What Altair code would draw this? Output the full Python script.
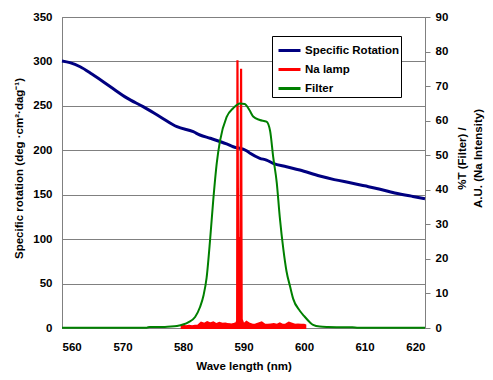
import altair as alt
import pandas as pd

# Specific rotation (left axis)
rot_wl = [560, 561.3, 563, 565, 568, 570.7, 573.4, 576.2, 579, 581.7, 582.8, 584.5,
          587.2, 588.3, 590.5, 591.1, 592.7, 593.8, 594.9, 597.1, 599.3, 602.6, 605,
          608, 610, 612, 615, 618, 620]
rot_val = [300.5, 298.6, 294, 285.5, 271.5, 259, 249.1, 237.8, 226.5, 220.9, 217.2, 213.5,
           207.1, 204, 199.5, 196.6, 191, 189, 185.3, 181.5, 177.8, 171, 167,
           163, 160, 157, 152, 148, 145.5]

# Filter transmission (right axis)
fil_wl = [560, 565, 570, 574, 574.5, 577, 578, 579, 580, 581, 582, 582.8, 583.4, 583.9,
          584.5, 585, 585.6, 586.1, 587.2, 588.3, 589.4, 590.2, 591, 591.6, 592.7, 593.8,
          594.4, 594.9, 595.5, 596, 596.6, 597.1, 597.7, 598.2, 599.3, 600, 601, 601.5,
          602.6, 604, 608, 609, 620]
fil_val = [0.1, 0.1, 0.1, 0.1, 0.3, 0.3, 0.4, 0.6, 1.0, 1.8, 3.2, 6, 9.5, 14.5,
           26, 37, 48, 54, 61, 63.6, 65, 64.8, 63, 61.2, 60.2, 59.7,
           57, 49.6, 42, 32, 22.6, 16.5, 12, 8.5, 5, 3.5, 1.6, 0.9,
           0.4, 0.3, 0.2, 0.1, 0.1]

# Na lamp intensity (right axis)
na_wl = [579.8, 580, 580.5, 581, 581.5, 582, 582.5, 583, 583.5, 584, 584.5, 585, 585.5,
         586, 586.5, 587, 587.5, 588, 588.5, 588.8, 588.95, 589.0, 589.1, 589.5, 589.6,
         589.7, 590, 590.5, 591, 591.5, 592, 592.5, 593, 593.5, 594, 594.5, 595, 595.5,
         596, 596.5, 597, 597.5, 598, 598.5, 599, 599.5, 600, 600.2]
na_val = [0.6, 0.6, 0.5, 0.6, 0.5, 0.6, 0.7, 1.5, 1.2, 1.7, 1.3, 1.6, 1.1,
          1.5, 1.2, 1.3, 1.1, 1.0, 1.2, 1.4, 2.0, 77.5, 26, 26, 75,
          2.5, 1.0, 1.8, 1.2, 0.9, 1.0, 1.3, 1.6, 1.0, 0.9, 1.0, 1.1, 0.9,
          1.3, 0.9, 1.0, 1.5, 1.2, 0.9, 1.0, 0.9, 0.9, 0.8]

series = ["Specific Rotation", "Na lamp", "Filter"]
colors = ["#000080", "#FF0000", "#008000"]

FONT = "Liberation Sans"
FS = 11.5
GRAY = "#808080"
NB = "\u00a0"

rot_df = pd.DataFrame({"wl": rot_wl, "rot": rot_val, "series": series[0]})
fil_df = pd.DataFrame({"wl": fil_wl, "val": fil_val, "series": series[2]})
na_df = pd.DataFrame({"wl": na_wl, "val": na_val, "series": series[1]})

x_enc = alt.X("wl:Q", scale=alt.Scale(domain=[560, 620], nice=False),
              axis=alt.Axis(values=list(range(560, 621, 10)), title="Wave length (nm)",
                            grid=False, ticks=False, labelPadding=13, domainColor=GRAY,
                            titleY=38, titleBaseline="middle"))

color_enc = alt.Color("series:N", scale=alt.Scale(domain=series, range=colors),
                      legend=alt.Legend(title=None, orient="none", legendX=210, legendY=19,
                                        symbolType="stroke", symbolStrokeWidth=3,
                                        symbolSize=484, symbolOffset=3, labelOffset=3,
                                        rowPadding=0, padding=2, fillColor="white",
                                        strokeColor="black",
                                        labelFont=FONT, labelFontSize=FS,
                                        labelFontWeight="bold", labelColor="black"))

blue = alt.Chart(rot_df).mark_line(strokeWidth=3, interpolate="monotone").encode(
    x=x_enc,
    y=alt.Y("rot:Q", scale=alt.Scale(domain=[0, 350], nice=False),
            axis=alt.Axis(orient="left", values=list(range(0, 351, 50)),
                          title="Specific rotation (deg  ·cm²·dag⁻¹)",
                          grid=True, gridColor=GRAY, ticks=False, labelPadding=10,
                          domainColor=GRAY, titleAngle=270, titleX=-43, titleY=151,
                          titleBaseline="middle", titleAlign="center")),
    color=color_enc,
)

right_axis = alt.Axis(orient="right", values=list(range(0, 91, 10)),
                      title=[NB * 12 + "%T (Filter) /", "A.U. (Na Intensity)"],
                      grid=False, ticks=True, tickSize=5, tickColor=GRAY,
                      labelPadding=5, domainColor=GRAY, titleAngle=270,
                      titleX=37, titleY=141, titleBaseline="middle",
                      titleAlign="center", titleLineHeight=16)
y_right = alt.Y("val:Q", scale=alt.Scale(domain=[0, 90], nice=False), axis=right_axis)

red = alt.Chart(na_df).mark_area(color="#FF0000", stroke="#FF0000", strokeWidth=2.2).encode(
    x=x_enc, y=y_right,
)
green = alt.Chart(fil_df).mark_line(strokeWidth=2, interpolate="monotone").encode(
    x=x_enc, y=y_right, color=color_enc,
)

right = alt.layer(red, green)

chart = alt.layer(blue, right).resolve_scale(y="independent").properties(
    width=363, height=311,
    padding={"left": 54, "top": 9, "right": 60, "bottom": 44},
    autosize=alt.AutoSizeParams(type="none"),
).configure_view(stroke=GRAY).configure_axis(
    labelFont=FONT, labelFontSize=FS, labelFontWeight="bold", labelColor="black",
    titleFont=FONT, titleFontSize=FS, titleFontWeight="bold", titleColor="black",
)

chart.save("out.html", embed_options={"renderer": "svg", "actions": False})
